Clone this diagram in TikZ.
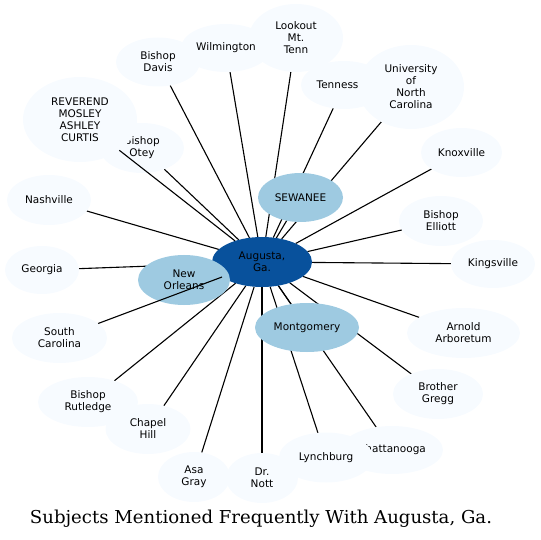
\documentclass[tikz,border=0pt]{standalone}
\usepackage{fontspec}
\usepackage{graphicx}
\usetikzlibrary{shapes.geometric}
\newfontfamily\nodefam{DejaVu Sans}
\newfontfamily\titlefam{DejaVu Serif}
\newcommand\mynodefont{\nodefam\fontsize{10.5}{12}\selectfont}
\definecolor{darkblue}{HTML}{08519C}
\definecolor{midblue}{HTML}{9ECAE1}
\definecolor{paleblue}{HTML}{F7FBFF}
\pgfdeclarelayer{background}
\pgfsetlayers{background,main}
\tikzset{
  nd/.style={ellipse, inner sep=0pt, outer sep=0pt, align=center, font=\mynodefont, text=black},
  pale/.style={nd, fill=paleblue},
  mid/.style={nd, fill=midblue},
  hub/.style={nd, fill=darkblue},
  link/.style={draw=black, line width=1.1pt},
  sz/.style n args={2}{minimum width=#1pt, minimum height=#2pt}
}
\begin{document}
\begin{tikzpicture}[x=1pt,y=-1pt]
\useasboundingbox (0,0) rectangle (541,540);
\node[pale, sz={84}{49}] (davis) at (158,62) {Bishop\\Davis};
\node[pale, sz={94}{68}] (lookout) at (296,38) {Lookout\\Mt.\\Tenn};
\node[pale, sz={90}{48}] (wilm) at (226,48) {Wilmington};
\node[pale, sz={86}{48}] (tenn) at (344,85) {Tennessee};
\node[pale, sz={106}{84}] (unc) at (411,87) {University\\of\\North\\Carolina};
\node[pale, sz={81}{49}] (knox) at (461.5,152.5) {Knoxville};
\node[pale, sz={84}{50}] (elliott) at (441,221) {Bishop\\Elliott};
\node[pale, sz={84}{48}] (kings) at (493,264) {Kingsville};
\node[pale, sz={113}{50}] (arnold) at (463.5,333) {Arnold\\Arboretum};
\node[pale, sz={90}{50}] (gregg) at (438,394) {Brother\\Gregg};
\node[pale, sz={102}{48}] (chatt) at (392,450) {Chattanooga};
\node[pale, sz={94}{50}] (lynch) at (326,457.5) {Lynchburg};
\node[pale, sz={72}{50}] (asa) at (194,477) {Asa\\Gray};
\node[pale, sz={72}{50}] (nott) at (262,478) {Dr.\\Nott};
\node[pale, sz={100}{50}] (rutledge) at (88,402) {Bishop\\Rutledge};
\node[pale, sz={85}{50}] (chapel) at (148,429) {Chapel\\Hill};
\node[pale, sz={95}{50}] (sc) at (59.5,338) {South\\Carolina};
\node[pale, sz={74}{48}] (georgia) at (42,270) {Georgia};
\node[pale, sz={84}{50}] (nash) at (49,200) {Nashville};
\node[pale, sz={84}{50}] (otey) at (142,148) {Bishop\\Otey};
\node[pale, sz={114}{85}] (rev) at (80,119.5) {REVEREND\\MOSLEY\\ASHLEY\\CURTIS};
\node[hub, sz={100}{50}] (aug) at (262,262) {Augusta,\\Ga.};
\node[mid, sz={85}{49}] (sew) at (300.5,197.5) {SEWANEE};
\node[mid, sz={92}{50}] (no) at (184,280) {New\\Orleans};
\node[mid, sz={104}{49}] (mont) at (307,327.5) {Montgomery};
\begin{pgfonlayer}{background}
\foreach \t in {davis,wilm,lookout,tenn,unc,knox,elliott,kings,arnold,gregg,chatt,lynch,asa,nott,rutledge,chapel,georgia,nash,otey,sew,no,mont}
  \draw[link] (aug) -- (\t);
\end{pgfonlayer}
\draw[link] (aug) -- (rev);
\draw[link] (aug) -- (sc);
\node[anchor=base, inner sep=0pt] (title) at (261,523.5) {\resizebox{462pt}{13.5pt}{\titlefam Subjects Mentioned Frequently With Augusta, Ga.}};
\end{tikzpicture}
\end{document}
